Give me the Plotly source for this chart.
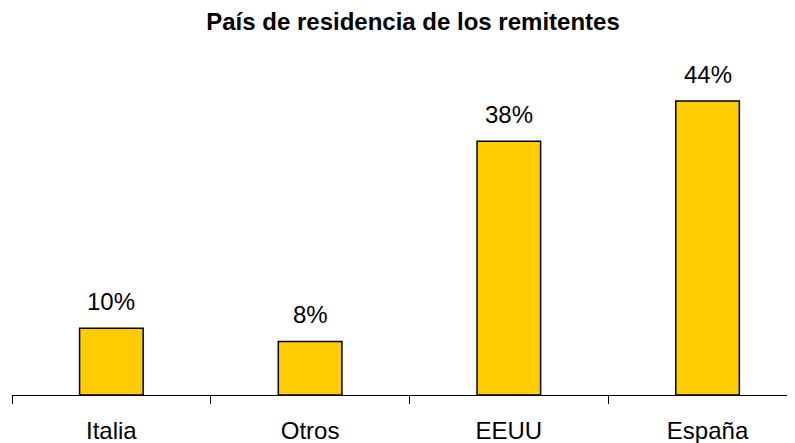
import plotly.graph_objects as go

categories = ["Italia", "Otros", "EEUU", "España"]
values = [10, 8, 38, 44]
labels = ["10%", "8%", "38%", "44%"]

FONT = "Liberation Sans, Arial"

fig = go.Figure()
fig.add_trace(go.Bar(
    x=categories, y=values, width=0.32,
    marker=dict(color="#FFCC00", line=dict(color="black", width=1.5)),
    hoverinfo="skip",
))
for c, v, t in zip(categories, values, labels):
    fig.add_annotation(x=c, y=v, text=t, showarrow=False, yanchor="middle",
                       yshift=27, font=dict(family=FONT, size=24, color="black"))

W, H = 787, 435
fig.update_layout(
    width=W, height=H,
    margin=dict(l=4, r=0, t=53, b=48),
    paper_bgcolor="white", plot_bgcolor="white",
    showlegend=False,
    title=dict(text="<b>País de residencia de los remitentes</b>", x=405 / W, xanchor="center",
               y=1 - 14 / H, yanchor="middle", xref="container", yref="container",
               font=dict(family=FONT, size=24, color="black")),
    xaxis=dict(type="category", range=[-0.5, 3.44], tickson="boundaries",
               ticks="outside", ticklen=8, tickcolor="black", tickwidth=1,
               ticklabelstandoff=14,
               showline=True, linecolor="black", linewidth=1, showgrid=False,
               tickfont=dict(family=FONT, size=24, color="black")),
    yaxis=dict(range=[0, 50], visible=False, showgrid=False, zeroline=False),
)
fig.write_html("out.html")
